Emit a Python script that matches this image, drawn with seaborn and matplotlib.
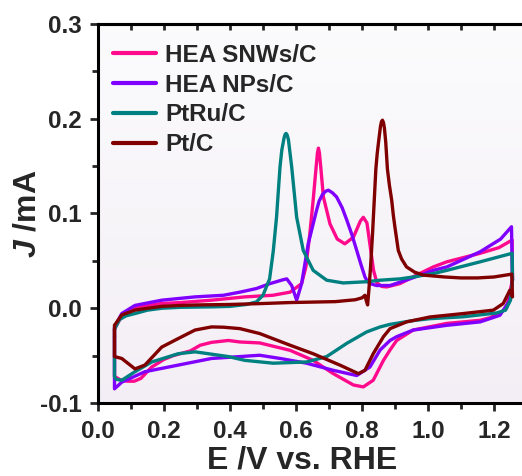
import numpy as np
import pandas as pd
import matplotlib
matplotlib.use("Agg")
import matplotlib.pyplot as plt
import seaborn as sns
from matplotlib.ticker import MultipleLocator, FormatStrFormatter, NullFormatter

# ---------------- data ----------------
labels = ["HEA SNWs/C", "HEA NPs/C", "PtRu/C", "Pt/C"]
colors = ["#ff0a8c", "#8000ff", "#008080", "#800000"]

snws_v = [0.05, 0.072, 0.112, 0.15, 0.193, 0.25, 0.344, 0.445, 0.53, 0.582, 0.617, 0.630, 0.642,
          0.652, 0.661, 0.665, 0.668, 0.671, 0.675, 0.683, 0.703, 0.725, 0.748, 0.774, 0.795, 0.804,
          0.815, 0.825, 0.835, 0.845, 0.86, 0.875, 0.915, 0.965, 1.016, 1.057, 1.158, 1.215, 1.255,
          1.256, 1.238, 1.218, 1.188, 1.158, 1.057, 0.955, 0.905, 0.885, 0.865, 0.834, 0.804,
          0.774, 0.713, 0.652, 0.582, 0.49, 0.43, 0.395, 0.344, 0.31, 0.28, 0.228, 0.20, 0.163,
          0.13, 0.11, 0.09, 0.07, 0.05, 0.05]
snws_j = [-0.022, -0.008, 0.000, 0.003, 0.005, 0.006, 0.0085, 0.012, 0.0137, 0.017, 0.026, 0.0436,
          0.079, 0.114, 0.149, 0.164, 0.169, 0.164, 0.149, 0.1175, 0.089, 0.073, 0.068, 0.075,
          0.092, 0.096, 0.09, 0.065, 0.04, 0.027, 0.023, 0.0225, 0.026, 0.035, 0.0436, 0.049,
          0.058, 0.064, 0.072, 0.03, 0.000, -0.005, -0.010, -0.0127, -0.016, -0.023, -0.034,
          -0.044, -0.055, -0.076, -0.083, -0.081, -0.069, -0.055, -0.0444, -0.0366, -0.0356,
          -0.034, -0.036, -0.039, -0.045, -0.050, -0.054, -0.062, -0.074, -0.077, -0.077, -0.076,
          -0.072, -0.022]

nps_v = [0.05, 0.05, 0.072, 0.112, 0.193, 0.294, 0.38, 0.43, 0.48, 0.521, 0.56, 0.572, 0.587, 0.602,
         0.617, 0.637, 0.662, 0.67, 0.68, 0.69, 0.698, 0.71, 0.723, 0.74, 0.754, 0.77, 0.784, 0.797,
         0.809, 0.817, 0.825, 0.844, 0.885, 0.945, 1.016, 1.057, 1.158, 1.22, 1.253, 1.256, 1.248,
         1.218, 1.158, 1.057, 0.955, 0.905, 0.885, 0.855, 0.824, 0.784, 0.713, 0.632, 0.552, 0.49,
         0.43, 0.344, 0.243, 0.142, 0.072, 0.05, 0.05]
nps_j = [-0.030, -0.020, -0.0056, 0.003, 0.0085, 0.012, 0.0137, 0.017, 0.0208, 0.026, 0.030, 0.031,
         0.024, 0.0085, 0.026, 0.068, 0.103, 0.113, 0.12, 0.1235, 0.1246, 0.122, 0.1175, 0.106,
         0.093, 0.077, 0.061, 0.046, 0.033, 0.028, 0.026, 0.024, 0.024, 0.031, 0.040, 0.0436,
         0.0596, 0.073, 0.086, 0.03, 0.0085, -0.0074, -0.0144, -0.018, -0.023, -0.030, -0.034,
         -0.044, -0.062, -0.071, -0.0655, -0.058, -0.053, -0.0496, -0.051, -0.053, -0.060, -0.067,
         -0.078, -0.085, -0.030]

ptru_v = [0.05, 0.065, 0.085, 0.112, 0.15, 0.193, 0.25, 0.35, 0.40, 0.45, 0.48, 0.50, 0.52, 0.531,
          0.541, 0.5515, 0.557, 0.564, 0.567, 0.570, 0.573, 0.577, 0.587, 0.602, 0.622, 0.652,
          0.693, 0.743, 0.814, 0.855, 0.915, 0.955, 1.016, 1.057, 1.158, 1.255, 1.256, 1.25, 1.235,
          1.208, 1.107, 1.006, 0.955, 0.885, 0.855, 0.814, 0.754, 0.693, 0.632, 0.531, 0.445,
          0.395, 0.294, 0.243, 0.163, 0.112, 0.072, 0.055, 0.05, 0.05, 0.05]
ptru_j = [-0.022, -0.012, -0.008, -0.0056, -0.002, 0.000, 0.001, 0.0015, 0.002, 0.004, 0.0067,
          0.0137, 0.031, 0.06, 0.096, 0.149, 0.167, 0.18, 0.1835, 0.1845, 0.183, 0.178, 0.149,
          0.096, 0.061, 0.040, 0.0296, 0.0267, 0.028, 0.0296, 0.031, 0.033, 0.0366, 0.040, 0.049,
          0.058, 0.03, 0.0085, -0.002, -0.005, -0.009, -0.011, -0.013, -0.017, -0.0197, -0.025,
          -0.037, -0.051, -0.0567, -0.058, -0.055, -0.051, -0.046, -0.048, -0.0567, -0.067,
          -0.076, -0.075, -0.0725, -0.055, -0.022]

ptc_v = [0.05, 0.072, 0.112, 0.15, 0.193, 0.25, 0.30, 0.40, 0.50, 0.58, 0.65, 0.72, 0.78, 0.80,
         0.809, 0.813, 0.817, 0.821, 0.826, 0.832, 0.842, 0.846, 0.850, 0.856, 0.859, 0.862, 0.865,
         0.868, 0.872, 0.877, 0.883, 0.89, 0.895, 0.90, 0.91, 0.92, 0.935, 0.96, 0.986, 1.05, 1.10,
         1.15, 1.20, 1.254, 1.256, 1.248, 1.228, 1.198, 1.107, 1.006, 0.935, 0.885, 0.865, 0.834,
         0.809, 0.789, 0.733, 0.652, 0.582, 0.49, 0.43, 0.38, 0.344, 0.294, 0.243, 0.193, 0.142,
         0.112, 0.072, 0.05, 0.05]
ptc_j = [-0.018, -0.007, -0.002, 0.000, 0.002, 0.003, 0.0035, 0.004, 0.005, 0.006, 0.0065, 0.007,
         0.009, 0.011, 0.0137, 0.008, 0.0035, 0.02, 0.0436, 0.079, 0.147, 0.163, 0.175, 0.192,
         0.197, 0.1985, 0.196, 0.19, 0.175, 0.147, 0.13, 0.114, 0.098, 0.085, 0.061, 0.052, 0.0436,
         0.038, 0.035, 0.033, 0.032, 0.032, 0.033, 0.036, 0.012, 0.019, 0.005, -0.002, -0.0056,
         -0.0092, -0.0144, -0.0215, -0.030, -0.048, -0.0655, -0.069, -0.060, -0.048, -0.039,
         -0.0267, -0.0215, -0.020, -0.0197, -0.023, -0.032, -0.041, -0.060, -0.064, -0.053,
         -0.051, -0.018]

series_v = [snws_v, nps_v, ptru_v, ptc_v]
series_j = [snws_j, nps_j, ptru_j, ptc_j]

frames = []
for lab, v, j in zip(labels, series_v, series_j):
    frames.append(pd.DataFrame({"E": v, "J": j, "sample": lab}))
df = pd.concat(frames, ignore_index=True)

# ---------------- style ----------------
sns.set_style("ticks")
plt.rcParams["font.family"] = ["Liberation Sans", "DejaVu Sans"]
plt.rcParams["font.weight"] = "bold"
plt.rcParams["mathtext.fontset"] = "custom"
plt.rcParams["mathtext.it"] = "Liberation Sans:italic:bold"
plt.rcParams["mathtext.rm"] = "Liberation Sans:bold"

fig = plt.figure(figsize=(5.22, 4.76), dpi=100)
ax = fig.add_axes([98 / 522, 1 - 403 / 476, 429 / 522, 379 / 476])

# gradient background
grad = np.linspace(0, 1, 256).reshape(-1, 1)
top = np.array([0.985, 0.985, 0.99])
bot = np.array([0.955, 0.935, 0.962])
img = top[None, None, :] * (1 - grad[:, :, None]) + bot[None, None, :] * grad[:, :, None]
ax.imshow(img, extent=[0, 1, 0, 1], transform=ax.transAxes, aspect="auto", zorder=0)

sns.lineplot(data=df, x="E", y="J", hue="sample", hue_order=labels, palette=colors,
             sort=False, estimator=None, units="sample", lw=2.4, ax=ax, zorder=2)

ax.set_xlim(0, 1.3)
ax.set_ylim(-0.1, 0.3)
ax.xaxis.set_major_locator(MultipleLocator(0.2))
ax.xaxis.set_minor_locator(MultipleLocator(0.1))
ax.yaxis.set_major_locator(MultipleLocator(0.1))
ax.yaxis.set_minor_locator(MultipleLocator(0.05))
ax.xaxis.set_major_formatter(FormatStrFormatter("%.1f"))
ax.yaxis.set_major_formatter(FormatStrFormatter("%.1f"))

for s in ax.spines.values():
    s.set_linewidth(2.2)
    s.set_color("black")
ax.tick_params(axis="both", which="major", direction="out", length=6, width=2,
               labelsize=17.5, pad=6)
ax.tick_params(axis="both", which="minor", direction="out", length=4, width=2)
for lab in ax.get_xticklabels() + ax.get_yticklabels():
    lab.set_fontweight("bold")

# small inward ticks along the top spine
sec = ax.secondary_xaxis("top")
sec.xaxis.set_major_locator(MultipleLocator(0.1))
sec.xaxis.set_major_formatter(NullFormatter())
sec.tick_params(axis="x", which="major", direction="in", length=4, width=2)
sec.spines["top"].set_linewidth(2.2)

ax.set_xlabel("E /V vs. RHE", fontsize=23, fontweight="bold")
ax.xaxis.set_label_coords(0.4755, -0.112)
ax.set_ylabel("$J$ /mA", fontsize=23, fontweight="bold", va="center")
ax.yaxis.set_label_coords(-0.1655, 0.5)

leg = ax.legend(loc="upper left", bbox_to_anchor=(0.035, 0.948), frameon=False,
                fontsize=17.5, handlelength=1.75, handletextpad=0.4, labelspacing=0.28,
                borderaxespad=0, borderpad=0)
for line in leg.get_lines():
    line.set_linewidth(3)
for t in leg.get_texts():
    t.set_fontweight("bold")

fig.savefig("out.png", dpi=100)
